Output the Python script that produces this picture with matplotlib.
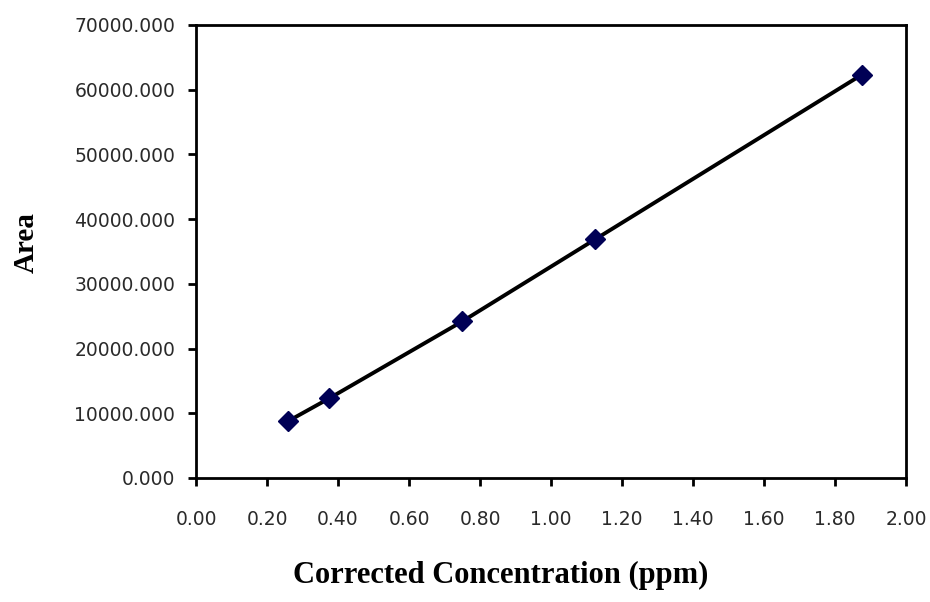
#!/usr/bin/env python

import numpy as np
import matplotlib
matplotlib.use('Agg')
import matplotlib.pyplot as plt
from matplotlib.ticker import FormatStrFormatter

# calibration data
conc = [0.26, 0.375, 0.75, 1.125, 1.875]
area = [8800, 12300, 24200, 36900, 62300]

xticks = np.arange(0, 2.01, 0.2)
yticks = np.arange(0, 70001, 10000)

fig = plt.figure(figsize=(9.3, 6.02), dpi=100)
ax = fig.add_axes([0.2108, 0.206, 0.7634, 0.7525])

ax.plot(conc, area, color='black', lw=2.8, zorder=2)
ax.plot(conc, area, linestyle='none', marker='D', ms=10, color='#000055', zorder=3)

ax.set_xlim(0, 2.0)
ax.set_ylim(0, 70000)
ax.set_xticks(xticks)
ax.set_yticks(yticks)
ax.xaxis.set_major_formatter(FormatStrFormatter('%.2f'))
ax.yaxis.set_major_formatter(FormatStrFormatter('%.3f'))

for s in ax.spines.values():
    s.set_linewidth(2.0)
    s.set_color('black')

ax.tick_params(direction='out', length=6, width=2, colors='black',
               labelcolor='#2a2a2a', labelsize=13.5)
ax.tick_params(axis='y', pad=9)
ax.tick_params(axis='x', pad=17)
for lbl in ax.get_xticklabels() + ax.get_yticklabels():
    lbl.set_family('DejaVu Sans')

# axis titles placed where they sit in the picture
fig.text(501/930, 1 - 575/602, 'Corrected Concentration (ppm)',
         family='Liberation Serif', fontweight='bold', fontsize=22,
         ha='center', va='center')
fig.text(26/930, 1 - 243/602, 'Area', family='Liberation Serif',
         fontweight='bold', fontsize=21, rotation=90,
         ha='center', va='center')

fig.savefig('out.png', dpi=100, facecolor='white')
